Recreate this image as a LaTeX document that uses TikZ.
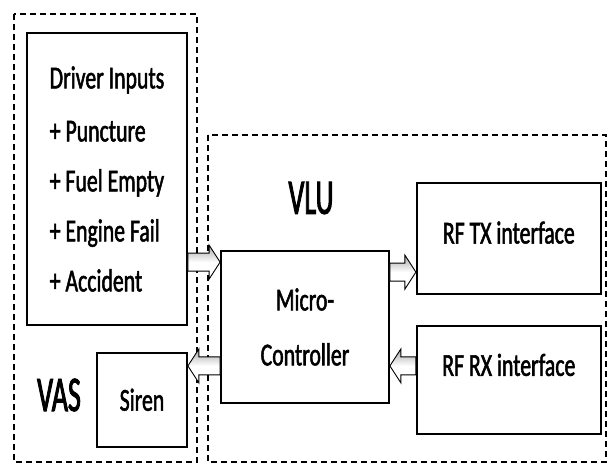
\documentclass[tikz,border=0pt]{standalone}
\usepackage{fontspec}
\setmainfont{Carlito}[FakeStretch=0.68, FakeBold=1.6]
\newfontfamily\bigfont{Carlito}[FakeStretch=0.56, FakeBold=1.8]
\usepackage{tikz}
\usetikzlibrary{arrows.meta,positioning,calc}

\begin{document}
\begin{tikzpicture}[x=1pt, y=-1pt, every node/.style={font=\fontsize{32}{50}\selectfont},
  box/.style={rectangle, draw, line width=1.8pt, inner sep=0pt, align=center},
  grp/.style={draw, dash pattern=on 6pt off 4pt, line width=1.4pt},
  blk/.style={draw=black, line width=0.9pt, top color=gray!70, bottom color=white, middle color=white,
    to path={($(\tikztostart)+(0,-9)$) -- ($(\tikztotarget)+(#1*11,-9)$) -- ($(\tikztotarget)+(#1*11,-17)$)
      -- (\tikztotarget) -- ($(\tikztotarget)+(#1*11,17)$) -- ($(\tikztotarget)+(#1*11,9)$)
      -- ($(\tikztostart)+(0,9)$) -- cycle}}]
\useasboundingbox (0,0) rectangle (608,464);
% dashed groups
\draw[grp] (14,14) rectangle (197,462);
\draw[grp] (208,135) rectangle (606,462);
\node[font=\bigfont\fontsize{50}{50}\selectfont] (vas) at (59,395) {VAS};
\node[font=\bigfont\fontsize{50}{50}\selectfont] (vlu) at (311,198) {VLU};
% blocks
\node[box, align=left, minimum width=160pt, minimum height=292pt] (drv) at (107,179)
  {Driver Inputs\\[3pt] + Puncture\\ + Fuel Empty\\ + Engine Fail\\ + Accident};
\node[box, minimum width=90pt, minimum height=94pt, below=26pt of drv.south east, anchor=north east] (siren) {Siren};
\node[box, minimum width=168pt, minimum height=152pt, font=\fontsize{32}{55}\selectfont] (mc) at (305,327) {Micro-\\Controller};
\node[box, minimum width=184pt, minimum height=111pt, text depth=12pt, right=26pt of mc.north east, anchor=north west, yshift=68pt] (rftx) {RF TX interface};
\node[box, minimum width=184pt, minimum height=108pt, text depth=30pt, below=30pt of rftx] (rfrx) {RF RX interface};
% arrows
\coordinate (t1) at ([yshift=-12pt]mc.north west);
\coordinate (t2) at ([yshift=-22pt]mc.north east);
\coordinate (t3) at ([yshift=38pt]mc.south east);
\coordinate (t4) at ([yshift=38pt]mc.south west);
\draw[blk=-1] (drv.east |- t1) to (t1);
\draw[blk=-1] (t2) to (rftx.west |- t2);
\draw[blk=1] (rfrx.west |- t3) to (t3);
\draw[blk=1] (t4) to (siren.east |- t4);
\end{tikzpicture}
\end{document}
